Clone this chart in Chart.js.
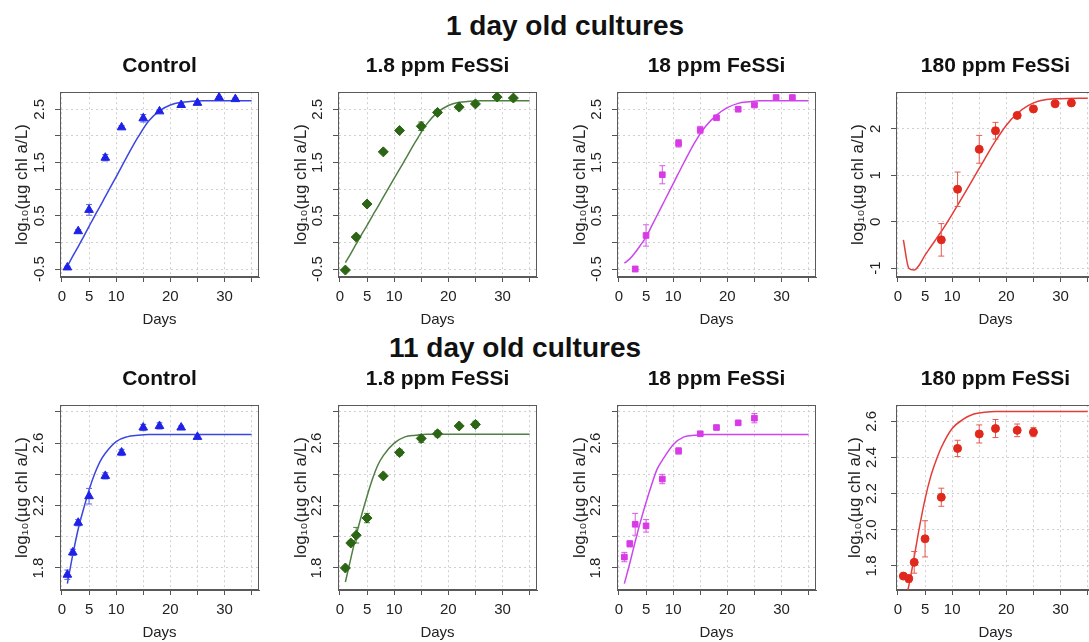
<!DOCTYPE html>
<html><head><meta charset="utf-8">
<script src="https://cdn.jsdelivr.net/npm/chart.js@4.4.1/dist/chart.umd.min.js"></script>
<style>
html,body{margin:0;padding:0;background:#fff;overflow:hidden;width:1089px;height:642px;position:relative;}
.h{position:absolute;font:bold 28px "Liberation Sans",Arial,Helvetica,sans-serif;color:#111;white-space:nowrap;transform:translateX(-50%);line-height:28px;}
canvas{position:absolute;}
</style></head><body>
<div class="h" style="left:565px;top:12px">1 day old cultures</div>
<div class="h" style="left:515px;top:334px">11 day old cultures</div>
<script>
// ---------- DATA ----------
// x axis (days)
const xTickValues = [0, 5, 10, 15, 20, 25, 30, 35];
const xTickLabels = [0, 5, 10, 20, 30];
// fitted-curve sampling days
const fitDays = [1, 2, 3, 4, 5, 6, 7, 8, 10, 12, 14, 16, 18, 20, 22, 24, 26, 30, 35];

// 1 day old cultures
const day1Days = [1, 3, 5, 8, 11, 15, 18, 22, 25, 29, 32];
const day1Control = [-0.47, 0.21, 0.61, 1.59, 2.16, 2.33, 2.46, 2.58, 2.62, 2.72, 2.69];
const day1ControlErr = [0.02, 0.03, 0.10, 0.06, 0.03, 0.07, 0.02, 0.03, 0.03, 0.02, 0.02];
const day1ControlFit = [-0.45, -0.26, -0.08, 0.11, 0.30, 0.49, 0.67, 0.86, 1.23, 1.61, 1.97, 2.28, 2.47, 2.58, 2.63, 2.65, 2.66, 2.66, 2.66];

const day1Fe1p8 = [-0.52, 0.10, 0.72, 1.70, 2.10, 2.18, 2.44, 2.54, 2.60, 2.73, 2.71];
const day1Fe1p8Err = [0.02, 0.04, 0.03, 0.03, 0.03, 0.08, 0.03, 0.03, 0.03, 0.03, 0.03];
const day1Fe1p8Fit = [-0.38, -0.21, -0.03, 0.15, 0.32, 0.50, 0.67, 0.85, 1.20, 1.55, 1.90, 2.22, 2.44, 2.57, 2.63, 2.65, 2.66, 2.66, 2.66];

const day1Fe18Days = [3, 5, 8, 11, 15, 18, 22, 25, 29, 32];
const day1Fe18 = [-0.50, 0.13, 1.27, 1.86, 2.11, 2.34, 2.50, 2.58, 2.72, 2.72];
const day1Fe18Err = [0.05, 0.20, 0.17, 0.07, 0.07, 0.03, 0.03, 0.03, 0.02, 0.02];
const day1Fe18Fit = [-0.39, -0.31, -0.19, -0.05, 0.10, 0.30, 0.50, 0.70, 1.10, 1.50, 1.88, 2.18, 2.39, 2.53, 2.61, 2.64, 2.66, 2.66, 2.66];

const day1Fe180Days = [8, 11, 15, 18, 22, 25, 29, 32];
const day1Fe180 = [-0.39, 0.70, 1.56, 1.96, 2.29, 2.43, 2.54, 2.56];
const day1Fe180Err = [0.35, 0.37, 0.30, 0.18, 0.06, 0.06, 0.03, 0.03];
const day1Fe180Fit = [-0.39, -1.00, -1.04, -0.92, -0.72, -0.55, -0.38, -0.21, 0.16, 0.55, 0.95, 1.35, 1.74, 2.08, 2.33, 2.50, 2.60, 2.65, 2.66];

// 11 day old cultures
const day11Days = [1, 2, 3, 5, 8, 11, 15, 18, 22, 25];
const day11Control = [1.757, 1.90, 2.09, 2.26, 2.39, 2.54, 2.70, 2.71, 2.70, 2.64];
const day11ControlErr = [0.03, 0.02, 0.02, 0.05, 0.02, 0.02, 0.02, 0.02, 0.01, 0.01];
const day11ControlFit = [1.70, 1.885, 2.05, 2.18, 2.30, 2.40, 2.48, 2.535, 2.61, 2.64, 2.65, 2.655, 2.655, 2.655, 2.655, 2.655, 2.655, 2.655, 2.655];

const day11Fe1p8 = [1.80, 1.96, 2.01, 2.12, 2.39, 2.54, 2.63, 2.66, 2.71, 2.72];
const day11Fe1p8Err = [0.01, 0.015, 0.05, 0.03, 0.01, 0.02, 0.025, 0.02, 0.01, 0.02];
const day11Fe1p8Fit = [1.71, 1.86, 2.01, 2.14, 2.26, 2.37, 2.46, 2.52, 2.60, 2.64, 2.65, 2.657, 2.657, 2.657, 2.657, 2.657, 2.657, 2.657, 2.657];

const day11Fe18 = [1.87, 1.955, 2.08, 2.07, 2.37, 2.55, 2.66, 2.70, 2.73, 2.76];
const day11Fe18Err = [0.03, 0.02, 0.07, 0.04, 0.03, 0.02, 0.01, 0.01, 0.01, 0.03];
const day11Fe18Fit = [1.70, 1.83, 1.97, 2.10, 2.22, 2.33, 2.43, 2.49, 2.59, 2.64, 2.65, 2.655, 2.655, 2.655, 2.655, 2.655, 2.655, 2.655, 2.655];

const day11Fe180 = [1.744, 1.73, 1.82, 1.95, 2.18, 2.45, 2.53, 2.56, 2.55, 2.54];
const day11Fe180Err = [0.01, 0.02, 0.06, 0.10, 0.05, 0.045, 0.05, 0.05, 0.035, 0.025];
const day11Fe180Fit = [1.58, 1.69, 1.85, 2.02, 2.17, 2.29, 2.38, 2.455, 2.56, 2.61, 2.64, 2.65, 2.654, 2.654, 2.654, 2.654, 2.654, 2.654, 2.654];

// y tick values / labels
const yTicksTop = [-0.5, 0, 0.5, 1, 1.5, 2, 2.5];
const yLabelsTop = [-0.5, 0.5, 1.5, 2.5];
const yTicksTop180 = [-1, 0, 1, 2];
const yLabelsTop180 = [-1, 0, 1, 2];
const yTicksBottom = [1.8, 2.0, 2.2, 2.4, 2.6, 2.8];
const yLabelsBottom = [1.8, 2.2, 2.6];
const yTicksBottom180 = [1.8, 2.0, 2.2, 2.4, 2.6];
const yLabelsBottom180 = [1.8, 2.0, 2.2, 2.4, 2.6];

// ---------- STYLE / LAYOUT ----------
const FONT = '"Liberation Sans", Arial, Helvetica, sans-serif';
Chart.defaults.font.family = FONT;
Chart.defaults.color = '#222';
const X_RANGE = [-0.36, 36.36];
const BOX_W = 199, BOX_H = 185, SIDE = 62, XAXIS_H = 60;
const TITLE_SIZE = 21, TITLE_PAD = {top: 14, bottom: 13};
const TITLE_BLOCK = TITLE_PAD.top + TITLE_SIZE * 1.2 + TITLE_PAD.bottom;
const TICK_FONT = 15, TICK_LEN = 5;

const BLUE = {pt: '#1f22e6', line: '#3b46df', err: '#5b63e6'};
const GREEN = {pt: '#2c6614', line: '#4f7f42', err: '#4f7f42'};
const MAG = {pt: '#d83be6', line: '#cc46ee', err: '#d35ce6'};
const RED = {pt: '#e0281c', line: '#e43c38', err: '#e85a50'};

const fmt1 = v => v.toFixed(1);
const fmtInt = v => String(v);

const panels = [
  {title: 'Control', left: 60, top: 92, days: day1Days, mean: day1Control, err: day1ControlErr, fit: day1ControlFit, shape: 'triangle', r: 5, col: BLUE, ylim: [-0.65, 2.82], yTicks: yTicksTop, yLabels: yLabelsTop, fmt: fmt1, gap: 20, tgap: 38},
  {title: '1.8 ppm FeSSi', left: 338, top: 92, days: day1Days, mean: day1Fe1p8, err: day1Fe1p8Err, fit: day1Fe1p8Fit, shape: 'rectRot', r: 5, col: GREEN, ylim: [-0.65, 2.82], yTicks: yTicksTop, yLabels: yLabelsTop, fmt: fmt1, gap: 20, tgap: 37},
  {title: '18 ppm FeSSi', left: 617, top: 92, days: day1Fe18Days, mean: day1Fe18, err: day1Fe18Err, fit: day1Fe18Fit, shape: 'rect', r: 4, col: MAG, ylim: [-0.65, 2.82], yTicks: yTicksTop, yLabels: yLabelsTop, fmt: fmt1, gap: 20, tgap: 37},
  {title: '180 ppm FeSSi', left: 896, top: 92, days: day1Fe180Days, mean: day1Fe180, err: day1Fe180Err, fit: day1Fe180Fit, shape: 'circle', r: 4, col: RED, ylim: [-1.19, 2.79], yTicks: yTicksTop180, yLabels: yLabelsTop180, fmt: fmtInt, gap: 20, tgap: 38},
  {title: 'Control', left: 60, top: 405, days: day11Days, mean: day11Control, err: day11ControlErr, fit: day11ControlFit, shape: 'triangle', r: 5, col: BLUE, ylim: [1.659, 2.843], yTicks: yTicksBottom, yLabels: yLabelsBottom, fmt: fmt1, gap: 21, tgap: 38},
  {title: '1.8 ppm FeSSi', left: 338, top: 405, days: day11Days, mean: day11Fe1p8, err: day11Fe1p8Err, fit: day11Fe1p8Fit, shape: 'rectRot', r: 5, col: GREEN, ylim: [1.659, 2.843], yTicks: yTicksBottom, yLabels: yLabelsBottom, fmt: fmt1, gap: 21, tgap: 37},
  {title: '18 ppm FeSSi', left: 617, top: 405, days: day11Days, mean: day11Fe18, err: day11Fe18Err, fit: day11Fe18Fit, shape: 'rect', r: 4, col: MAG, ylim: [1.659, 2.843], yTicks: yTicksBottom, yLabels: yLabelsBottom, fmt: fmt1, gap: 21, tgap: 37},
  {title: '180 ppm FeSSi', left: 896, top: 405, days: day11Days, mean: day11Fe180, err: day11Fe180Err, fit: day11Fe180Fit, shape: 'circle', r: 4, col: RED, ylim: [1.667, 2.689], yTicks: yTicksBottom180, yLabels: yLabelsBottom180, fmt: fmt1, gap: 24, tgap: 41}
];

const measureCtx = document.createElement('canvas').getContext('2d');
measureCtx.font = `${TICK_FONT}px ${FONT}`;

const boxPlugin = {
  id: 'box',
  beforeDatasetsDraw(chart) {
    const {ctx, chartArea: a} = chart;
    ctx.save();
    ctx.strokeStyle = '#5a5a5a';
    ctx.lineWidth = 1;
    const l = Math.round(a.left) + 0.5, t = Math.round(a.top) + 0.5;
    const r = Math.round(a.right) - 0.5, b = Math.round(a.bottom) - 0.5;
    ctx.strokeRect(l, t, r - l, b - t);
    ctx.restore();
  }
};

const Y_TITLE_SIZE = 17;
panels.forEach(p => {
  const cv = document.createElement('canvas');
  const W = SIDE + BOX_W + SIDE, H = Math.round(TITLE_BLOCK + BOX_H + XAXIS_H);
  cv.width = W; cv.height = H;
  cv.style.left = (p.left - SIDE) + 'px';
  cv.style.top = (p.top - TITLE_BLOCK) + 'px';
  cv.style.width = W + 'px'; cv.style.height = H + 'px';
  document.body.appendChild(cv);

  const labelTexts = p.yTicks.map(v => p.yLabels.includes(v) ? p.fmt(v) : '');
  const widest = Math.max(...labelTexts.map(t => measureCtx.measureText(t).width));
  const yPad = p.gap - TICK_LEN - widest / 2;
  const yTitlePad = SIDE - p.tgap - Y_TITLE_SIZE * 1.2 / 2;

  const errData = [];
  p.days.forEach((d, i) => {
    errData.push({x: d, y: p.mean[i] - p.err[i]}, {x: d, y: p.mean[i] + p.err[i]}, {x: d, y: null});
  });

  new Chart(cv, {
    type: 'scatter',
    data: {
      datasets: [
        {data: p.days.map((d, i) => ({x: d, y: p.mean[i]})), pointStyle: p.shape, pointRadius: p.r,
         backgroundColor: p.col.pt, borderColor: p.col.pt, pointBorderWidth: 1, order: 0},
        {data: errData, showLine: true, spanGaps: false, borderColor: p.col.err, borderWidth: 1,
         pointStyle: 'line', pointRadius: 3, pointBorderColor: p.col.err, pointBorderWidth: 1, order: 1},
        {data: fitDays.map((d, i) => ({x: d, y: p.fit[i]})), showLine: true, pointRadius: 0,
         borderColor: p.col.line, borderWidth: 1.5, cubicInterpolationMode: 'monotone', order: 2}
      ]
    },
    options: {
      responsive: false, animation: false, devicePixelRatio: 1,
      layout: {padding: 0},
      plugins: {
        legend: {display: false}, tooltip: {enabled: false},
        title: {display: true, text: p.title, color: '#111', font: {size: TITLE_SIZE, weight: 'bold', family: FONT}, padding: TITLE_PAD}
      },
      scales: {
        x: {
          type: 'linear', min: X_RANGE[0], max: X_RANGE[1], bounds: 'data',
          afterBuildTicks: s => { s.ticks = xTickValues.map(v => ({value: v})); },
          afterFit: s => { s.height = XAXIS_H; },
          ticks: {autoSkip: false, maxRotation: 0, padding: 6, font: {size: TICK_FONT}, color: '#222',
                  callback: v => xTickLabels.includes(v) ? String(v) : ''},
          grid: {color: '#cfcfcf', lineWidth: 1, tickLength: TICK_LEN, tickColor: '#555', tickWidth: 1},
          border: {display: true, color: '#5a5a5a', width: 1, dash: [2, 3]},
          title: {display: true, text: 'Days', color: '#222', font: {size: 15}, padding: {top: 0, bottom: 8}}
        },
        y: {
          type: 'linear', position: 'left', min: p.ylim[0], max: p.ylim[1], bounds: 'data',
          afterBuildTicks: s => { s.ticks = p.yTicks.map(v => ({value: v})); },
          afterFit: s => { s.width = SIDE; },
          ticks: {autoSkip: false, minRotation: 90, maxRotation: 90, crossAlign: 'center', padding: yPad,
                  font: {size: TICK_FONT}, color: '#222',
                  callback: v => p.yLabels.includes(v) ? p.fmt(v) : ''},
          grid: {color: '#cfcfcf', lineWidth: 1, tickLength: TICK_LEN, tickColor: '#555', tickWidth: 1},
          border: {display: true, color: '#5a5a5a', width: 1, dash: [2, 3]},
          title: {display: true, text: 'log\u2081\u2080(\u00b5g chl a/L)', color: '#222', font: {size: Y_TITLE_SIZE}, padding: {top: yTitlePad, bottom: 0}}
        },
        yRight: {
          type: 'linear', position: 'right', display: true,
          afterFit: s => { s.width = SIDE; },
          ticks: {display: false}, grid: {display: false, drawTicks: false}, border: {display: false}, title: {display: false}
        }
      }
    },
    plugins: [boxPlugin]
  });
});
</script>
</body></html>
